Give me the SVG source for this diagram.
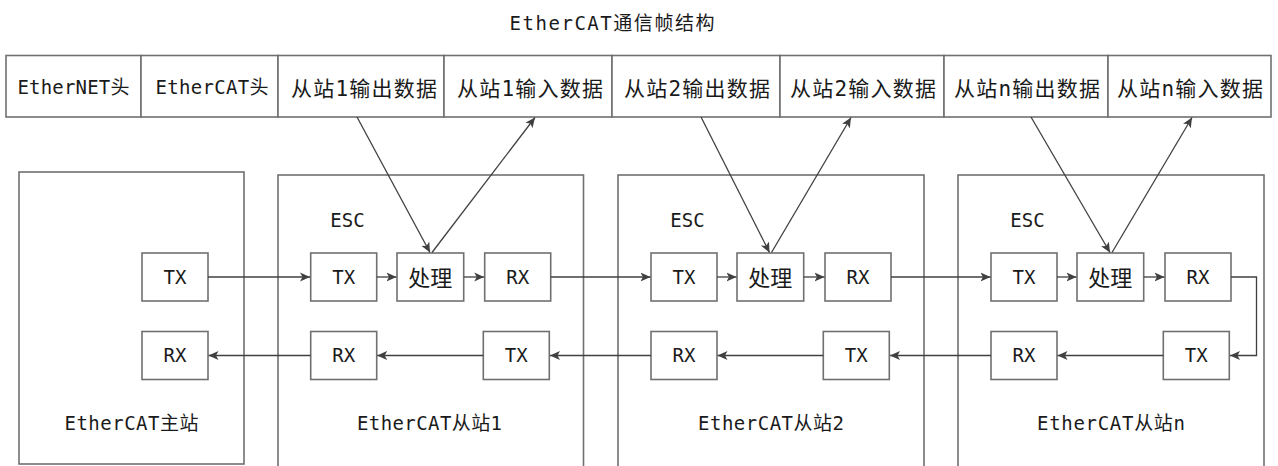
<svg xmlns="http://www.w3.org/2000/svg" width="1278" height="466" viewBox="0 0 1278 466">
<style>
.t{font-family:"DejaVu Sans Mono","Noto Sans CJK SC",monospace;fill:#1a1a1a;text-anchor:middle;font-size:19px}
.c{font-size:21px}
.p{font-size:22px}
.cell{fill:#fff;stroke:#707070;stroke-width:1.6}
.box{fill:#fff;stroke:#707070;stroke-width:1.6}
.big{fill:none;stroke:#707070;stroke-width:1.6}
.ln{fill:none;stroke:#404040;stroke-width:1.3}
</style>
<defs>
<marker id="ah" viewBox="0 0 10 10" refX="10" refY="5" markerWidth="10" markerHeight="10" markerUnits="userSpaceOnUse" orient="auto">
<path d="M0,0.5 L10,5 L0,9.5 L2.5,5 Z" fill="#404040"/>
</marker>
</defs>
<rect width="1278" height="466" fill="#fff"/>
<text class="t" x="612" y="30" textLength="205">EtherCAT通信帧结构</text>

<g id="frame">
<rect class="cell" x="6" y="55.5" width="135" height="61.5"/>
<rect class="cell" x="141" y="55.5" width="137" height="61.5"/>
<rect class="cell" x="278" y="55.5" width="166" height="61.5"/>
<rect class="cell" x="444" y="55.5" width="168" height="61.5"/>
<rect class="cell" x="612" y="55.5" width="168" height="61.5"/>
<rect class="cell" x="780" y="55.5" width="164" height="61.5"/>
<rect class="cell" x="944" y="55.5" width="164" height="61.5"/>
<rect class="cell" x="1108" y="55.5" width="163" height="61.5"/>
<text class="t" x="73.5" y="94" textLength="112">EtherNET头</text>
<text class="t" x="212" y="94" textLength="113">EtherCAT头</text>
<text class="t c" x="364" y="96" textLength="146">从站1输出数据</text>
<text class="t c" x="530" y="96" textLength="146">从站1输入数据</text>
<text class="t c" x="697" y="96" textLength="146">从站2输出数据</text>
<text class="t c" x="863" y="96" textLength="146">从站2输入数据</text>
<text class="t c" x="1027" y="96" textLength="146">从站n输出数据</text>
<text class="t c" x="1190" y="96" textLength="146">从站n输入数据</text>
</g>

<g id="master">
<rect class="big" x="19" y="172" width="225" height="292"/>
<rect class="box" x="142" y="253" width="66" height="48"/>
<text class="t" x="175" y="284">TX</text>
<rect class="box" x="142" y="331.5" width="66" height="48"/>
<text class="t" x="175" y="362">RX</text>
<text class="t" x="131.5" y="430" textLength="134">EtherCAT主站</text>
</g>

<g id="slave1">
<rect class="big" x="278" y="175" width="305.5" height="300"/>
<text class="t" x="347.5" y="226.5">ESC</text>
<rect class="box" x="310.7" y="253" width="66" height="48"/>
<text class="t" x="343.7" y="284">TX</text>
<rect class="box" x="397" y="253" width="66.7" height="48"/>
<text class="t p" x="430.3" y="285.5">处理</text>
<rect class="box" x="484.7" y="253" width="66" height="48"/>
<text class="t" x="517.7" y="284">RX</text>
<rect class="box" x="310.7" y="331.5" width="66" height="48"/>
<text class="t" x="343.7" y="362">RX</text>
<rect class="box" x="483.3" y="331.5" width="66" height="48"/>
<text class="t" x="516.3" y="362">TX</text>
<text class="t" x="429.5" y="430" textLength="145">EtherCAT从站1</text>
</g>

<g id="slave2">
<rect class="big" x="618" y="175" width="306" height="300"/>
<text class="t" x="687.5" y="226.5">ESC</text>
<rect class="box" x="651" y="253" width="66" height="48"/>
<text class="t" x="684" y="284">TX</text>
<rect class="box" x="737" y="253" width="66.7" height="48"/>
<text class="t p" x="770.3" y="285.5">处理</text>
<rect class="box" x="825" y="253" width="66" height="48"/>
<text class="t" x="858" y="284">RX</text>
<rect class="box" x="651" y="331.5" width="66" height="48"/>
<text class="t" x="684" y="362">RX</text>
<rect class="box" x="823.3" y="331.5" width="66" height="48"/>
<text class="t" x="856.3" y="362">TX</text>
<text class="t" x="771" y="430" textLength="146">EtherCAT从站2</text>
</g>

<g id="slaven">
<rect class="big" x="958" y="175" width="306" height="300"/>
<text class="t" x="1027.5" y="226.5">ESC</text>
<rect class="box" x="991" y="253" width="66" height="48"/>
<text class="t" x="1024" y="284">TX</text>
<rect class="box" x="1077" y="253" width="66.7" height="48"/>
<text class="t p" x="1110.3" y="285.5">处理</text>
<rect class="box" x="1165" y="253" width="66" height="48"/>
<text class="t" x="1198" y="284">RX</text>
<rect class="box" x="991" y="331.5" width="66" height="48"/>
<text class="t" x="1024" y="362">RX</text>
<rect class="box" x="1163.3" y="331.5" width="66" height="48"/>
<text class="t" x="1196.3" y="362">TX</text>
<text class="t" x="1111" y="430" textLength="148">EtherCAT从站n</text>
</g>

<g id="connectors">
<line class="ln" x1="208" y1="277" x2="310" y2="277" marker-end="url(#ah)"/>
<line class="ln" x1="376.7" y1="277" x2="396.5" y2="277" marker-end="url(#ah)"/>
<line class="ln" x1="463.7" y1="277" x2="484.2" y2="277" marker-end="url(#ah)"/>
<line class="ln" x1="550.7" y1="277" x2="650.5" y2="277" marker-end="url(#ah)"/>
<line class="ln" x1="717" y1="277" x2="736.5" y2="277" marker-end="url(#ah)"/>
<line class="ln" x1="803.7" y1="277" x2="824.5" y2="277" marker-end="url(#ah)"/>
<line class="ln" x1="891" y1="277" x2="990.5" y2="277" marker-end="url(#ah)"/>
<line class="ln" x1="1057" y1="277" x2="1076.5" y2="277" marker-end="url(#ah)"/>
<line class="ln" x1="1143.7" y1="277" x2="1164.5" y2="277" marker-end="url(#ah)"/>
<polyline class="ln" points="1231,277 1256.5,277 1256.5,355.5 1230,355.5" marker-end="url(#ah)"/>
<line class="ln" x1="1163.3" y1="355.5" x2="1057.5" y2="355.5" marker-end="url(#ah)"/>
<line class="ln" x1="991" y1="355.5" x2="890" y2="355.5" marker-end="url(#ah)"/>
<line class="ln" x1="823.3" y1="355.5" x2="717.5" y2="355.5" marker-end="url(#ah)"/>
<line class="ln" x1="651" y1="355.5" x2="550" y2="355.5" marker-end="url(#ah)"/>
<line class="ln" x1="483.3" y1="355.5" x2="377.2" y2="355.5" marker-end="url(#ah)"/>
<line class="ln" x1="310.7" y1="355.5" x2="208.5" y2="355.5" marker-end="url(#ah)"/>
<line class="ln" x1="357" y1="117" x2="430" y2="252.5" marker-end="url(#ah)"/>
<line class="ln" x1="432" y1="252.5" x2="535" y2="117.5" marker-end="url(#ah)"/>
<line class="ln" x1="701" y1="117" x2="769.5" y2="252.5" marker-end="url(#ah)"/>
<line class="ln" x1="771.5" y1="252.5" x2="851" y2="117.5" marker-end="url(#ah)"/>
<line class="ln" x1="1031" y1="117" x2="1110" y2="252.5" marker-end="url(#ah)"/>
<line class="ln" x1="1112" y1="252.5" x2="1192" y2="117.5" marker-end="url(#ah)"/>
</g>
</svg>
